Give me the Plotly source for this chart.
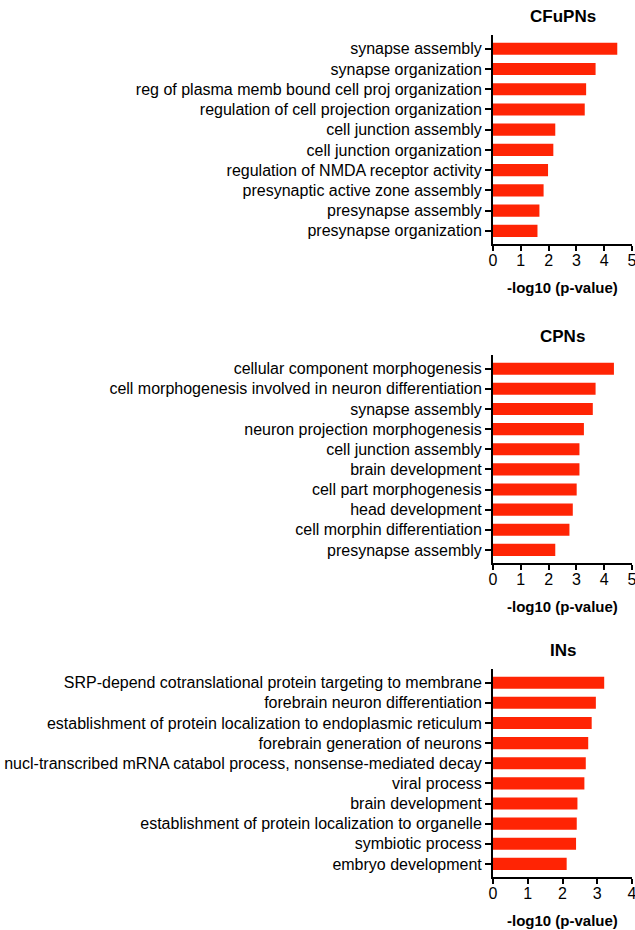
import plotly.graph_objects as go

# GO term enrichment per neuron class (-log10 p-value), listed top to bottom
cfupn_terms = [
    "synapse assembly",
    "synapse organization",
    "reg of plasma memb bound cell proj organization",
    "regulation of cell projection organization",
    "cell junction assembly",
    "cell junction organization",
    "regulation of NMDA receptor activity",
    "presynaptic active zone assembly",
    "presynapse assembly",
    "presynapse organization",
]
cfupn_values = [4.47, 3.69, 3.35, 3.30, 2.24, 2.17, 1.98, 1.82, 1.67, 1.60]

cpn_terms = [
    "cellular component morphogenesis",
    "cell morphogenesis involved in neuron differentiation",
    "synapse assembly",
    "neuron projection morphogenesis",
    "cell junction assembly",
    "brain development",
    "cell part morphogenesis",
    "head development",
    "cell morphin differentiation",
    "presynapse assembly",
]
cpn_values = [4.35, 3.69, 3.59, 3.27, 3.11, 3.11, 3.01, 2.87, 2.75, 2.24]

in_terms = [
    "SRP-depend cotranslational protein targeting to membrane",
    "forebrain neuron differentiation",
    "establishment of protein localization to endoplasmic reticulum",
    "forebrain generation of neurons",
    "nucl-transcribed mRNA catabol process, nonsense-mediated decay",
    "viral process",
    "brain development",
    "establishment of protein localization to organelle",
    "symbiotic process",
    "embryo development",
]
in_values = [3.20, 2.96, 2.84, 2.74, 2.67, 2.63, 2.43, 2.41, 2.39, 2.12]

panel_titles = ["CFuPNs", "CPNs", "INs"]
x_max = [5, 5, 4]
x_title = "-log10 (p-value)"

BAR_COLOR = "rgb(255,36,4)"
FONT = "Liberation Sans, Arial, sans-serif"
W, H = 635, 930

# pixel extents of each panel's plotting area (top, bottom)
panel_px = [(35, 244), (355, 563), (669, 877)]
x_px = (493, 632)

panels = [
    (cfupn_terms, cfupn_values),
    (cpn_terms, cpn_values),
    (in_terms, in_values),
]

fig = go.Figure()
layout = dict(
    width=W,
    height=H,
    margin=dict(l=0, r=0, t=0, b=0, autoexpand=False),
    paper_bgcolor="white",
    plot_bgcolor="white",
    showlegend=False,
    font=dict(family=FONT, color="black"),
)
annotations = []

for i, ((terms, vals), title, xm, (top, bot)) in enumerate(
    zip(panels, panel_titles, x_max, panel_px)
):
    n = "" if i == 0 else str(i + 1)
    fig.add_trace(
        go.Bar(
            x=vals,
            y=terms,
            orientation="h",
            marker=dict(color=BAR_COLOR, line=dict(width=0)),
            width=0.6,
            xaxis="x" + n,
            yaxis="y" + n,
            hoverinfo="x+y",
        )
    )
    ydom = [1 - bot / H, 1 - top / H]
    layout["xaxis" + n] = dict(
        domain=[x_px[0] / W, x_px[1] / W],
        anchor="y" + n,
        range=[0, xm],
        tickvals=list(range(0, xm + 1)),
        ticks="outside",
        ticklen=5,
        tickwidth=2,
        tickcolor="black",
        showline=True,
        linewidth=2,
        linecolor="black",
        showgrid=False,
        zeroline=False,
        tickfont=dict(size=16, family=FONT),
        ticklabelstandoff=-4,
        ticklabeloverflow="allow",
        automargin=False,
        fixedrange=True,
    )
    layout["yaxis" + n] = dict(
        domain=ydom,
        anchor="x" + n,
        type="category",
        categoryorder="array",
        categoryarray=terms,
        range=[9.65, -0.68],
        ticks="outside",
        ticklen=6,
        tickwidth=2,
        tickcolor="black",
        showline=True,
        linewidth=2,
        linecolor="black",
        showgrid=False,
        zeroline=False,
        tickfont=dict(size=16, family=FONT),
        ticklabelstandoff=0,
        ticklabeloverflow="allow",
        automargin=False,
        fixedrange=True,
    )
    xc = (x_px[0] + x_px[1]) / 2 / W
    annotations.append(
        dict(
            text="<b>%s</b>" % title,
            x=xc,
            y=1 - (top - 19) / H,
            xref="paper",
            yref="paper",
            xanchor="center",
            yanchor="middle",
            showarrow=False,
            font=dict(size=17, family=FONT, color="black"),
        )
    )
    annotations.append(
        dict(
            text="<b>%s</b>" % x_title,
            x=xc,
            y=1 - (bot + 43) / H,
            xref="paper",
            yref="paper",
            xanchor="center",
            yanchor="middle",
            showarrow=False,
            font=dict(size=15, family=FONT, color="black"),
        )
    )

layout["annotations"] = annotations
fig.update_layout(**layout)
fig.write_html("out.html")
